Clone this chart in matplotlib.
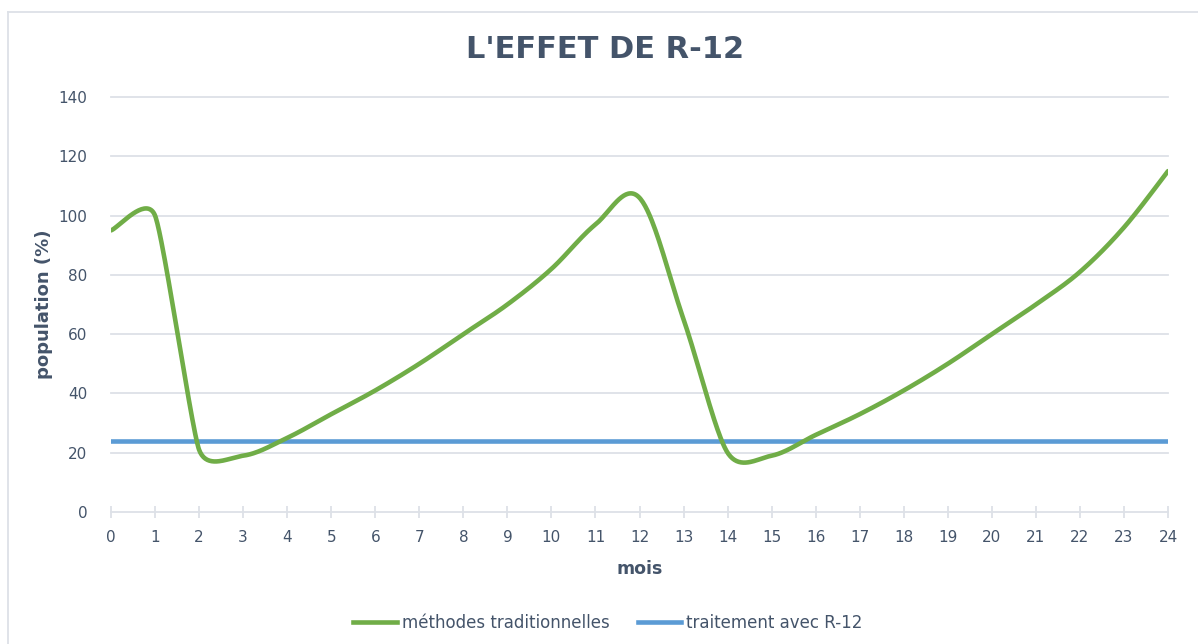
import numpy as np
import matplotlib
matplotlib.use("Agg")
import matplotlib.pyplot as plt
from matplotlib.lines import Line2D

# ---- data ----
mois = [0, 1, 2, 3, 4, 5, 6, 7, 8, 9, 10, 11, 12, 13, 14, 15, 16, 17, 18, 19, 20, 21, 22, 23, 24]
methodes_traditionnelles = [95, 100, 21, 19, 25, 33, 41, 50, 60, 70, 82, 97, 106, 65, 20, 19, 26, 33, 41, 50, 60, 70, 81, 96, 115]
traitement_x = [0, 24]
traitement_r12 = [24, 24]
y_ticks = [0, 20, 40, 60, 80, 100, 120, 140]

title = "L'EFFET DE R-12"
xlabel = "mois"
ylabel = "population (%)"
label_green = "méthodes traditionnelles"
label_blue = "traitement avec R-12"

GREEN = "#70AD47"
BLUE = "#5B9BD5"
TXT = "#44546A"
GRID = "#DDE1E7"

W, H = 1198, 644
fig = plt.figure(figsize=(W / 100, H / 100), dpi=100)
ax = fig.add_axes([111 / W, 1 - 512 / H, (1168 - 111) / W, (512 - 97) / H])
ax.set_xlim(0, 24)
ax.set_ylim(0, 140)


def excel_smooth(ax, xs, ys, n=40):
    pts = ax.transData.transform(np.column_stack([xs, ys]))
    N = len(pts)

    def offset(a, b, c):
        d = c - a
        dn = np.hypot(*d)
        if dn == 0:
            return np.zeros(2)
        la = np.hypot(*(b - a))
        lc = np.hypot(*(c - b))
        lims = [v / 2 for v in (la, lc) if v > 0]
        f = min([dn / 6] + lims)
        return d / dn * f

    out = []
    for i in range(N - 1):
        p0 = pts[i - 1] if i > 0 else pts[i]
        p1 = pts[i]
        p2 = pts[i + 1]
        p3 = pts[i + 2] if i + 2 < N else pts[i + 1]
        c1 = p1 + offset(p0, p1, p2)
        c2 = p2 - offset(p1, p2, p3)
        t = np.linspace(0, 1, n)[:, None]
        seg = ((1 - t) ** 3) * p1 + 3 * ((1 - t) ** 2) * t * c1 + 3 * (1 - t) * t ** 2 * c2 + t ** 3 * p2
        out.append(seg if i == 0 else seg[1:])
    curve = np.vstack(out)
    return ax.transData.inverted().transform(curve)


for y in y_ticks[1:]:
    ax.axhline(y, color=GRID, lw=1.3, zorder=0, clip_on=False)

curve = excel_smooth(ax, mois, methodes_traditionnelles)
ax.plot(curve[:, 0], curve[:, 1], color=GREEN, lw=3.3, solid_capstyle="round", zorder=3)
ax.plot(traitement_x, traitement_r12, color=BLUE, lw=3.3, zorder=2)

for s in ["top", "right", "left"]:
    ax.spines[s].set_visible(False)
ax.spines["bottom"].set_color(GRID)
ax.spines["bottom"].set_linewidth(1.3)

ax.set_xticks(mois)
ax.set_xticklabels([str(m) for m in mois])
ax.set_yticks(y_ticks)
ax.tick_params(axis="x", direction="inout", length=8, width=1.3, color=GRID,
               labelsize=11, labelcolor=TXT, pad=9)
ax.tick_params(axis="y", length=0, labelsize=11, labelcolor=TXT, pad=17)

ax.set_xlabel(xlabel, fontsize=12.5, fontweight="bold", color=TXT, labelpad=11)
ax.set_ylabel(ylabel, fontsize=13, fontweight="bold", color=TXT, labelpad=4)

fig.text(605 / W, 1 - 50 / H, title, ha="center", va="center", fontsize=22,
         fontweight="bold", color=TXT)

handles = [Line2D([0], [0], color=GREEN, lw=3.3), Line2D([0], [0], color=BLUE, lw=3.3)]
fig.legend(handles, [label_green, label_blue], loc="center", bbox_to_anchor=(608 / W, 1 - 623 / H),
           ncol=2, frameon=False, fontsize=12, labelcolor=TXT, handlelength=2.6,
           handletextpad=0.3, columnspacing=1.7)

# chart-area border (top and left visible)
fig.add_artist(Line2D([8 / W, 8 / W], [0, 1 - 12 / H], transform=fig.transFigure, color=GRID, lw=1.3))
fig.add_artist(Line2D([8 / W, 1], [1 - 12 / H, 1 - 12 / H], transform=fig.transFigure, color=GRID, lw=1.3))

fig.savefig("out.png", dpi=100, facecolor="white")
